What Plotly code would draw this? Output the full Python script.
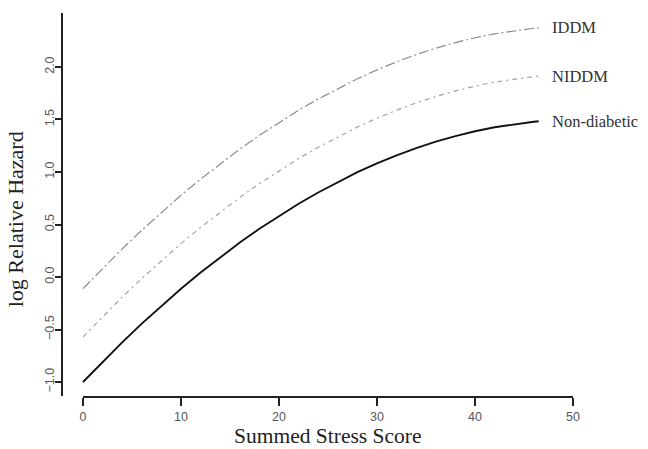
import plotly.graph_objects as go

# Data
score = [0, 2, 4, 6, 8, 10, 12, 14, 16, 18, 20, 22, 24, 26, 28, 30, 32, 34, 36, 38, 40, 42, 44, 46, 46.5]
non_diabetic = [-1.000, -0.807, -0.622, -0.444, -0.274, -0.112, 0.042, 0.189, 0.328, 0.459, 0.582,
                0.698, 0.805, 0.905, 0.998, 1.082, 1.159, 1.228, 1.289, 1.342, 1.388, 1.426, 1.456,
                1.479, 1.483]
iddm = [-0.110, 0.083, 0.268, 0.446, 0.616, 0.778, 0.932, 1.079, 1.218, 1.349, 1.472, 1.588, 1.695,
        1.795, 1.888, 1.972, 2.049, 2.118, 2.179, 2.232, 2.278, 2.316, 2.346, 2.369, 2.373]
niddm = [-0.570, -0.377, -0.192, -0.014, 0.156, 0.318, 0.472, 0.619, 0.758, 0.889, 1.012, 1.128,
         1.235, 1.335, 1.428, 1.512, 1.589, 1.658, 1.719, 1.772, 1.818, 1.856, 1.886, 1.909, 1.913]

x_ticks = [0, 10, 20, 30, 40, 50]
y_ticks = [-1.0, -0.5, 0.0, 0.5, 1.0, 1.5, 2.0]
series_labels = ["IDDM", "NIDDM", "Non-diabetic"]

SERIF = "Liberation Serif, Times New Roman, serif"
SANS = "Liberation Sans, Arial, sans-serif"

fig = go.Figure()
fig.add_trace(go.Scatter(x=score, y=iddm, mode="lines", name="IDDM",
                         line=dict(color="#8c8c8c", width=1.2, dash="10px,3px,2px,3px")))
fig.add_trace(go.Scatter(x=score, y=niddm, mode="lines", name="NIDDM",
                         line=dict(color="#a2a2a2", width=1.2, dash="5px,4px,2px,4px")))
fig.add_trace(go.Scatter(x=score, y=non_diabetic, mode="lines", name="Non-diabetic",
                         line=dict(color="#111111", width=1.9)))
# empty trace to instantiate the visible x axis
fig.add_trace(go.Scatter(x=[], y=[], xaxis="x2", yaxis="y", showlegend=False))

ends = [iddm[-1], niddm[-1], non_diabetic[-1]]
for lab, yv in zip(series_labels, ends):
    fig.add_annotation(x=47.7, y=yv, xref="x", yref="y", text=lab, showarrow=False,
                       xanchor="left", yanchor="middle",
                       font=dict(family=SERIF, size=16.5, color="#333333"))

fig.add_annotation(x=25, y=0, xref="x", yref="paper", text="Summed Stress Score",
                   showarrow=False, xanchor="center", yanchor="top", yshift=-26,
                   font=dict(family=SERIF, size=21.5, color="#222222"))
fig.add_annotation(x=0, y=0.55, xref="paper", yref="y", text="log Relative Hazard",
                   showarrow=False, xanchor="center", yanchor="middle", textangle=-90,
                   xshift=-48, font=dict(family=SERIF, size=22, color="#222222"))

fig.update_layout(
    width=648, height=449,
    margin=dict(l=63, r=75, t=13, b=53),
    paper_bgcolor="white", plot_bgcolor="rgba(0,0,0,0)",
    showlegend=False,
    xaxis=dict(domain=[0, 1], range=[-2.04, 50], visible=False, fixedrange=True),
    xaxis2=dict(domain=[20 / 510, 1], range=[0, 50], anchor="y",
                showline=True, linecolor="#222222", linewidth=1.6,
                ticks="outside", ticklen=8, tickwidth=1.6, tickcolor="#222222",
                tickvals=x_ticks, showgrid=False, zeroline=False,
                tickfont=dict(family=SANS, size=12.5, color="#555555")),
    yaxis=dict(range=[-1.133, 2.514], anchor="x",
               showline=True, linecolor="#222222", linewidth=1.6,
               ticks="outside", ticklen=6, tickwidth=1.6, tickcolor="#222222",
               tickvals=y_ticks, tickformat=".1f", tickangle=-90,
               ticklabelstandoff=-4,
               showgrid=False, zeroline=False,
               tickfont=dict(family=SANS, size=12.5, color="#555555")),
)

fig.write_html("out.html")
